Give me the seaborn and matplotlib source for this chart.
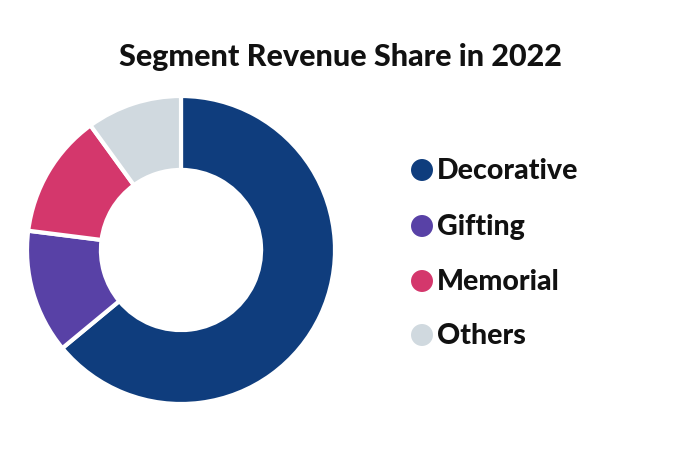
import matplotlib
matplotlib.use("Agg")
import matplotlib.pyplot as plt
import seaborn as sns

categories = ["Decorative", "Gifting", "Memorial", "Others"]
shares = [64, 13, 13, 10]
colors = ["#0f3d7d", "#5841a6", "#d4376c", "#d0d9df"]
title = "Segment Revenue Share in 2022"

sns.set_theme(style="white")
plt.rcParams["font.family"] = ["Lato", "DejaVu Sans"]

W, H = 680, 450
fig = plt.figure(figsize=(W / 100, H / 100), dpi=100)
fig.patch.set_facecolor("white")

cx, cy, r = 181, 250, 154
ax = fig.add_axes([(cx - r) / W, (H - cy - r) / H, 2 * r / W, 2 * r / H])
ax.pie(shares, colors=colors, startangle=90, counterclock=False,
       wedgeprops=dict(width=0.48, edgecolor="white", linewidth=3))
ax.set_xlim(-1.0, 1.0)
ax.set_ylim(-1.0, 1.0)
ax.set_aspect("equal")
ax.axis("off")

fig.text(340 / W, 1 - 57 / H, title, ha="center", va="center",
         fontsize=22, fontweight="black", color="#111111")

lax = fig.add_axes([0, 0, 1, 1])
lax.set_xlim(0, W)
lax.set_ylim(H, 0)
lax.axis("off")
ys = [170, 226, 281, 335]
for cat, col, y in zip(categories, colors, ys):
    lax.scatter([422], [y], s=250, color=col, edgecolor="none")
    lax.text(437, y + 1, cat, ha="left", va="center", fontsize=20.5,
             fontweight="black", color="#111111")

fig.savefig("out.png", dpi=100, facecolor="white")
